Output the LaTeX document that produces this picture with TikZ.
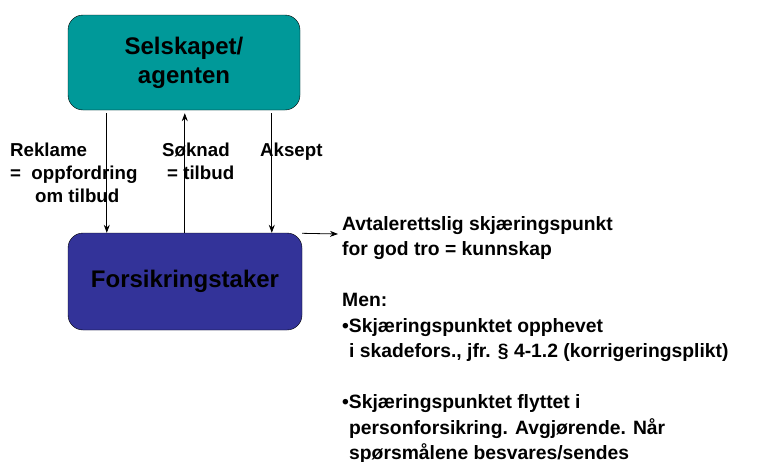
\documentclass[tikz,border=0pt]{standalone}
\usepackage{fontspec}
\setmainfont{Liberation Sans}
\usetikzlibrary{calc}
\usetikzlibrary{arrows.meta}

\begin{document}
\begin{tikzpicture}[x=1pt, y=-1pt,
	party/.style={draw=black, rounded corners=15pt, font=\fontsize{24}{29}\selectfont\bfseries, align=center, inner sep=0pt},
	lbl/.style={font=\fontsize{18.7}{23}\selectfont\bfseries, align=left, inner sep=0pt, anchor=north west},
	arr/.style={-{Stealth[length=8pt,width=6pt]}, line width=0.8pt}]
	\useasboundingbox (0,0) rectangle (776,461);
	\node[party, fill={rgb,255:red,0;green,153;blue,153}, minimum width=232pt, minimum height=95pt] (sel) at (184,62.5) {\raisebox{-3pt}{Selskapet/}\\\raisebox{-3pt}{agenten}};
	\node[party, fill={rgb,255:red,51;green,51;blue,153}, minimum width=234pt, minimum height=97pt] (fors) at (185,281.5) {\raisebox{-3pt}{Forsikringstaker}};
	% arrows between the parties
	\draw[arr] ($(sel.south west)+(39,3)$) -- ($(fors.north west)+(39,0)$);
	\draw[arr] ($(fors.north west)+(117,0)$) -- ($(sel.south west)+(117,3)$);
	\draw[arr] ($(sel.south west)+(204,3)$) -- ($(fors.north west)+(204,0)$);
	\coordinate (avt) at (338,234);
	\draw[arr] ($(fors.north east)+(0,0.5)$) -- (avt);
	% labels
	\node[lbl] (rek) at (10,143) {Reklame\\=\ \ oppfordring\\\hspace*{25pt}om tilbud};
	\node[lbl] (sok) at (162,143) {Søknad\\\hspace*{5pt}= tilbud};
	\node[lbl] (aks) at (260,143) {Aksept};
	\node[lbl, font=\fontsize{19.3}{25.5}\selectfont\bfseries] (txt) at (342,216) {Avtalerettslig skjæringspunkt\\
		for god tro = kunnskap\\[25.5pt]
		Men:\\
		•Skjæringspunktet opphevet\\
		\hspace*{7pt}i skadefors., jfr. § 4-1.2 (korrigeringsplikt)\\[25.5pt]
		•Skjæringspunktet flyttet i\\
		\hspace*{7pt}personforsikring. Avgjørende. Når\\
		\hspace*{7pt}spørsmålene besvares/sendes};
\end{tikzpicture}
\end{document}
